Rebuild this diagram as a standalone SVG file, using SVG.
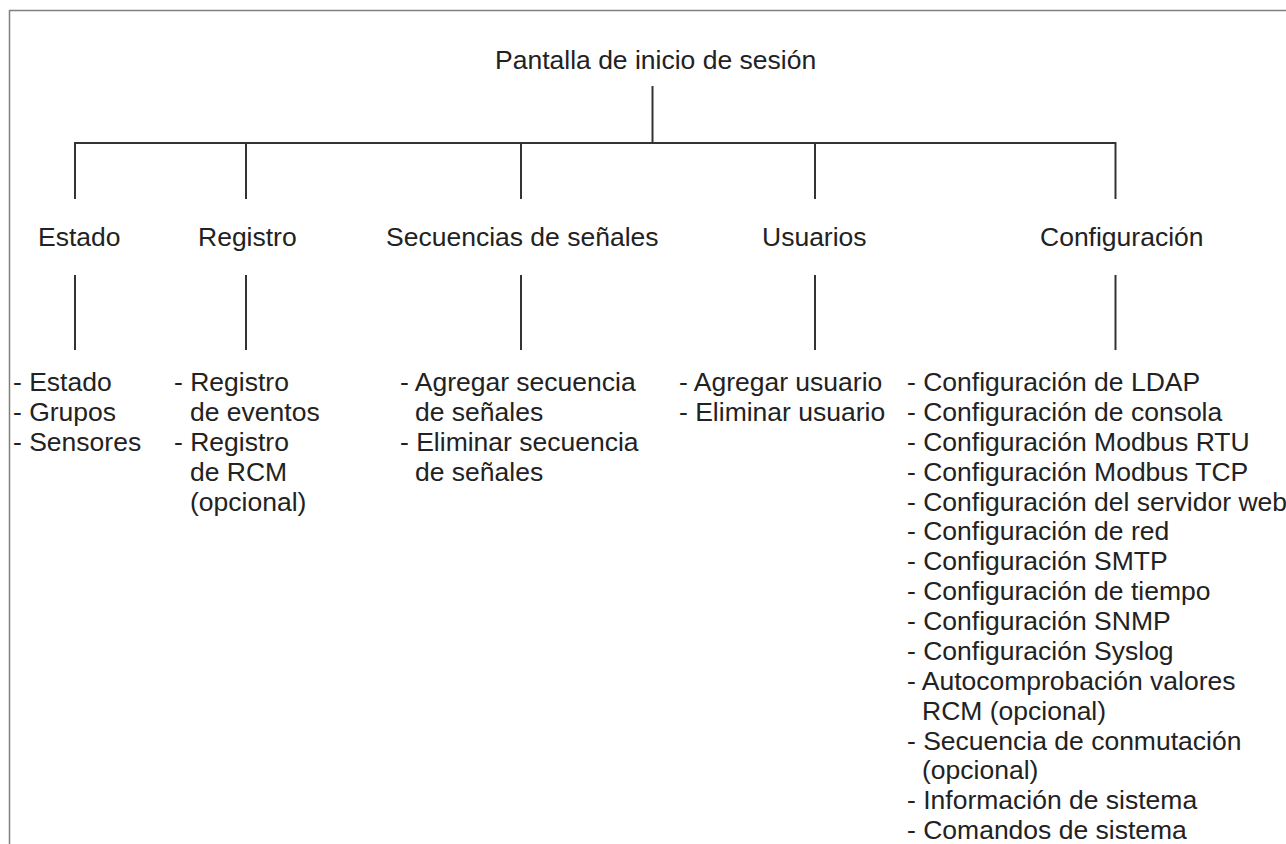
<svg xmlns="http://www.w3.org/2000/svg" width="1286" height="844" viewBox="0 0 1286 844">
<style>
text{font-family:"Liberation Sans",Arial,sans-serif;font-size:26.5px;fill:#222}
.c line{stroke:#333;stroke-width:2;fill:none}
.frame{stroke:#808080;stroke-width:1.5;fill:none}
</style>
<rect width="1286" height="844" fill="#fff"/>
<path class="frame" d="M9.5,844 V10.5 H1286"/>
<g class="c" id="connectors">
<line x1="652.5" y1="86" x2="652.5" y2="143"/>
<line x1="74" y1="143" x2="1116" y2="143"/>
<line x1="75" y1="142" x2="75" y2="199"/>
<line x1="246" y1="143" x2="246" y2="199"/>
<line x1="521" y1="143" x2="521" y2="199"/>
<line x1="815" y1="143" x2="815" y2="199"/>
<line x1="1115.5" y1="142" x2="1115.5" y2="199"/>
<line x1="75" y1="275" x2="75" y2="350"/>
<line x1="246" y1="275" x2="246" y2="350"/>
<line x1="521" y1="275" x2="521" y2="350"/>
<line x1="815" y1="275" x2="815" y2="350"/>
<line x1="1115.5" y1="275" x2="1115.5" y2="350"/>
</g>
<g id="root"><text x="495" y="69">Pantalla de inicio de sesión</text></g>
<g id="estado"><text x="38" y="246">Estado</text></g>
<g id="registro"><text x="198" y="246">Registro</text></g>
<g id="secuencias"><text x="386" y="246">Secuencias de señales</text></g>
<g id="usuarios"><text x="762" y="246">Usuarios</text></g>
<g id="configuracion"><text x="1040" y="246">Configuración</text></g>
<g id="estado-list">
<text x="13" y="391">- Estado</text>
<text x="13" y="421">- Grupos</text>
<text x="13" y="451">- Sensores</text>
</g>
<g id="registro-list">
<text x="174" y="391">- Registro</text>
<text x="190" y="421">de eventos</text>
<text x="174" y="451">- Registro</text>
<text x="190" y="481">de RCM</text>
<text x="190" y="511">(opcional)</text>
</g>
<g id="secuencias-list">
<text x="400" y="391">- Agregar secuencia</text>
<text x="415" y="421">de señales</text>
<text x="400" y="451">- Eliminar secuencia</text>
<text x="415" y="481">de señales</text>
</g>
<g id="usuarios-list">
<text x="679" y="391">- Agregar usuario</text>
<text x="679" y="421">- Eliminar usuario</text>
</g>
<g id="configuracion-list">
<text x="907" y="391">- Configuración de LDAP</text>
<text x="907" y="421">- Configuración de consola</text>
<text x="907" y="451">- Configuración Modbus RTU</text>
<text x="907" y="481">- Configuración Modbus TCP</text>
<text x="907" y="511">- Configuración del servidor web</text>
<text x="907" y="540">- Configuración de red</text>
<text x="907" y="570">- Configuración SMTP</text>
<text x="907" y="600">- Configuración de tiempo</text>
<text x="907" y="630">- Configuración SNMP</text>
<text x="907" y="660">- Configuración Syslog</text>
<text x="907" y="690">- Autocomprobación valores</text>
<text x="922" y="720">RCM (opcional)</text>
<text x="907" y="750">- Secuencia de conmutación</text>
<text x="922" y="779">(opcional)</text>
<text x="907" y="809">- Información de sistema</text>
<text x="907" y="839">- Comandos de sistema</text>
</g>
</svg>
